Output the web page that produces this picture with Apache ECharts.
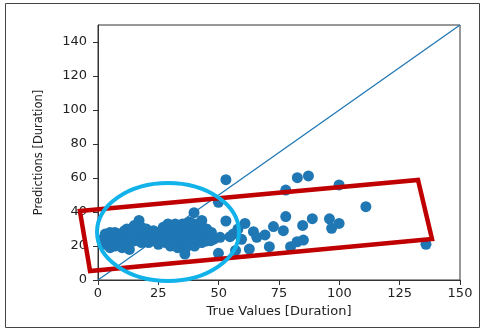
<!DOCTYPE html>
<html><head><meta charset="utf-8">
<script src="https://cdn.jsdelivr.net/npm/echarts@6/dist/echarts.min.js"></script>
<style>html,body{margin:0;padding:0;background:#fff}#c{width:485px;height:330px}</style>
</head><body><div id="c"></div>
<script>
// Data: predictions vs true values
const clusterPoints = [
 [2,24],[3,27],[3,21],[4,25],[4,22],[5,28],[5,19],[5,24],[6,26],[6,22],[7,28],[7,20],[7,24],[8,23],[8,26],[9,21],[9,27],[10,24],[10,19],[11,25],[11,29],[12,30],[12,22],[13,18],[13,26],[14,24],[14,28],
 [15,23],[15,32],[16,25],[17,35],[17,29],[18,31],[18,22],[19,26],[20,24],[20,30],[21,28],[21,22],[22,26],[23,29],[23,24],[24,27],[25,25],[25,21],[26,28],[26,23],
 [27,26],[27,31],[28,22],[28,29],[29,25],[29,33],[30,20],[30,27],[31,24],[31,30],[32,22],[32,28],[32,33],[33,26],[33,19],[34,29],[34,23],[34,31],[35,25],[35,21],[35,33],[36,27],[36,18],[36,30],[37,24],[37,32],[37,20],[38,28],[38,25],[38,34],[39,22],[39,30],[39,27],[40,26],[40,33],[40,20],[41,29],[41,24],[42,31],[42,27],[43,35],[43,22],[44,28],[44,25],[45,30],[45,23],[46,26],[47,28],[48,24]
];
const outlierPoints = [
 [53,59],[82.6,60.2],[87.2,61.2],[99.9,55.9],[77.8,52.9],[49.9,45.7],[39.8,39.6],[111,43.1],[77.8,37.3],[53,34.7],
 [88.8,36.1],[95.9,36],[99.9,33.3],[96.8,30.4],[84.8,32.1],[72.7,31.4],[76.8,29],[60.9,33.3],[64.4,28.4],[65.8,25.1],
 [69.2,26.5],[54.7,25.5],[50.6,25.1],[59.5,23.9],[46.7,23.1],[85.1,23.5],[82.5,22.5],[79.8,19.6],[71,19.6],[62.7,18.2],
 [49.9,15.7],[57,17.4],[135.9,21],[36,15.3],[58,30],[56,27]
];
const identityLine = [[0,0],[150,150]];
const xTicks = [0,25,50,75,100,125,150];
const yTicks = [0,20,40,60,80,100,120,140];
// Annotation shapes in data units
const redBox = [[-7.5,40.6],[132.6,58.8],[138.4,24.1],[-3.3,5.3]];
const blueEllipse = {cx:29, cy:28.2, rx:29.4, ry:28.8};

const font = 'DejaVu Sans';
const chart = echarts.init(document.getElementById('c'), null, {renderer:'canvas'});
const axisCommon = {
  axisLine:{show:true, onZero:false, lineStyle:{color:'#333', width:1}},
  axisTick:{show:true, length:5, lineStyle:{color:'#333'}},
  splitLine:{show:false},
  nameTextStyle:{color:'#222', fontFamily:font, fontSize:13},
  nameLocation:'middle'
};
chart.setOption({
  animation:false,
  grid:{left:98, right:25, top:25, bottom:50, show:true, borderColor:'#333', borderWidth:1},
  xAxis:Object.assign({}, axisCommon, {type:'value', min:xTicks[0], max:xTicks[xTicks.length-1], interval:25,
    name:'True Values [Duration]', nameGap:22,
    axisLabel:{color:'#222', fontFamily:font, fontSize:13, margin:7}}),
  yAxis:Object.assign({}, axisCommon, {type:'value', min:yTicks[0], max:150, interval:20,
    name:'Predictions [Duration]', nameGap:53,
    nameTextStyle:{color:'#222', fontFamily:font, fontSize:11.5},
    axisLabel:{color:'#222', fontFamily:font, fontSize:13, margin:11, showMaxLabel:false}}),
  series:[
    {type:'scatter', data:clusterPoints.concat(outlierPoints), symbolSize:11,
     itemStyle:{color:'#1f77b4', opacity:1}, z:2},
    {type:'line', data:identityLine, showSymbol:false, lineStyle:{color:'#1f77b4', width:1.3}, z:3}
  ]
});
const p = v => chart.convertToPixel({gridIndex:0}, v);
const poly = redBox.map(p);
const c0 = p([blueEllipse.cx, blueEllipse.cy]);
const cx1 = p([blueEllipse.cx + blueEllipse.rx, blueEllipse.cy]);
const cy1 = p([blueEllipse.cx, blueEllipse.cy + blueEllipse.ry]);
chart.setOption({
  graphic:[
    {type:'rect', shape:{x:5.5, y:3.5, width:474, height:324}, style:{fill:null, stroke:'#444', lineWidth:1}, z:1},
    {type:'polygon', shape:{points:poly}, style:{fill:null, stroke:'#c00000', lineWidth:4.5}, z:10},
    {type:'ellipse', shape:{cx:c0[0], cy:c0[1], rx:Math.abs(cx1[0]-c0[0]), ry:Math.abs(c0[1]-cy1[1])},
     style:{fill:null, stroke:'#12b2ea', lineWidth:4}, z:11}
  ]
});
</script></body></html>
